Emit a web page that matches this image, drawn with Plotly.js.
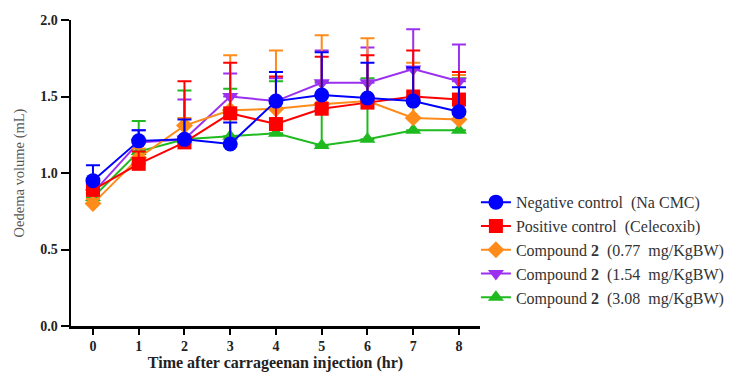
<!DOCTYPE html>
<html>
<head>
<meta charset="utf-8">
<script src="https://cdn.plot.ly/plotly-3.0.1.min.js"></script>
<style>html,body{margin:0;padding:0;background:#fff}#chart{width:741px;height:372px}</style>
</head>
<body>
<div id="chart"></div>
<script>
var hours = [0, 1, 2, 3, 4, 5, 6, 7, 8];
var xTickLabels = ["0", "1", "2", "3", "4", "5", "6", "7", "8"];
var yTickVals = [0, 0.5, 1.0, 1.5, 2.0];
var yTickLabels = ["0.0", "0.5", "1.0", "1.5", "2.0"];

var seriesNames = [
  "Negative control  (Na CMC)",
  "Positive control  (Celecoxib)",
  "Compound <b>2</b>  (0.77  mg/KgBW)",
  "Compound <b>2</b>  (1.54  mg/KgBW)",
  "Compound <b>2</b>  (3.08  mg/KgBW)"
];

var negativeMean = [0.95, 1.21, 1.22, 1.19, 1.47, 1.51, 1.49, 1.47, 1.40];
var negativeSD   = [0.10, 0.07, 0.13, 0.14, 0.19, 0.28, 0.23, 0.22, 0.16];

var positiveMean = [0.89, 1.06, 1.20, 1.39, 1.32, 1.42, 1.46, 1.50, 1.48];
var positiveSD   = [0.04, 0.08, 0.40, 0.33, 0.31, 0.34, 0.31, 0.30, 0.18];

var dose077Mean = [0.80, 1.10, 1.31, 1.41, 1.42, 1.45, 1.47, 1.36, 1.35];
var dose077SD   = [0.03, 0.06, 0.05, 0.36, 0.38, 0.45, 0.41, 0.36, 0.29];

var dose154Mean = [0.87, 1.20, 1.22, 1.50, 1.47, 1.59, 1.59, 1.68, 1.60];
var dose154SD   = [0.04, 0.08, 0.26, 0.15, 0.15, 0.21, 0.23, 0.26, 0.24];

var dose308Mean = [0.84, 1.14, 1.22, 1.24, 1.26, 1.18, 1.22, 1.28, 1.28];
var dose308SD   = [0.03, 0.20, 0.32, 0.31, 0.34, 0.42, 0.40, 0.20, 0.34];

var colors = ["#0000FF", "#FF0000", "#FF8C1A", "#9B30F0", "#1FBA1F"];
var symbols = ["circle", "square", "diamond", "triangle-down", "triangle-up"];
var means = [negativeMean, positiveMean, dose077Mean, dose154Mean, dose308Mean];
var sds = [negativeSD, positiveSD, dose077SD, dose154SD, dose308SD];
var sizes = [15, 14, 13, 14, 14];

var serif = "Liberation Serif, Times New Roman, serif";

var traces = [];
// draw last series first so the negative control sits on top
for (var i = 4; i >= 0; i--) {
  traces.push({
    type: "scatter",
    mode: "lines+markers",
    x: hours,
    y: means[i],
    name: seriesNames[i],
    legendrank: i + 1,
    legendgroup: "g" + i,
    line: {color: colors[i], width: 2},
    marker: {color: colors[i], symbol: symbols[i], size: sizes[i]},
    error_y: {
      type: "data",
      symmetric: false,
      array: sds[i],
      arrayminus: hours.map(function () { return 0; }),
      color: colors[i],
      thickness: 2,
      width: 7
    }
  });
}

var layout = {
  width: 741,
  height: 372,
  margin: {l: 71, r: 261, t: 20, b: 46},
  paper_bgcolor: "#ffffff",
  plot_bgcolor: "#ffffff",
  showlegend: true,
  legend: {
    x: 0.99, xanchor: "left",
    y: 0.46, yanchor: "top",
    traceorder: "normal",
    tracegroupgap: 1.5,
    font: {family: serif, size: 16, color: "#333333"},
    bgcolor: "rgba(0,0,0,0)",
    itemwidth: 30
  },
  xaxis: {
    range: [-0.48, 8.46],
    tickmode: "array",
    tickvals: hours,
    ticktext: xTickLabels.map(function (t) { return "<b>" + t + "</b>"; }),
    ticks: "outside",
    ticklen: 6,
    tickwidth: 2,
    tickcolor: "#000",
    showline: true,
    linecolor: "#000",
    linewidth: 2.5,
    showgrid: false,
    zeroline: false,
    tickfont: {family: serif, size: 14, color: "#222"},
    title: {
      text: "<b>Time after carrageenan injection (hr)</b>",
      font: {family: serif, size: 16, color: "#222"},
      standoff: 3
    }
  },
  yaxis: {
    range: [0, 2.0],
    tickmode: "array",
    tickvals: yTickVals,
    ticktext: yTickLabels.map(function (t) { return "<b>" + t + "</b>"; }),
    ticks: "outside",
    ticklen: 8,
    tickwidth: 2,
    tickcolor: "#000",
    showline: true,
    linecolor: "#000",
    linewidth: 2.5,
    showgrid: false,
    zeroline: false,
    tickfont: {family: serif, size: 14, color: "#222"},
    title: {
      text: "Oedema volume (mL)",
      font: {family: serif, size: 14.5, color: "#555"},
      standoff: 12
    }
  }
};

Plotly.newPlot("chart", traces, layout, {displayModeBar: false, staticPlot: true});
</script>
</body>
</html>
